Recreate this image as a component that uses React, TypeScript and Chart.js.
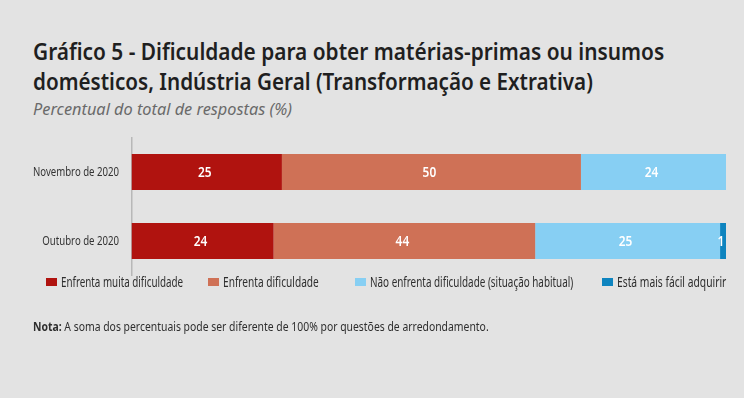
import React, { useEffect, useLayoutEffect, useRef } from "react";
import { Chart, registerables } from "chart.js";

Chart.register(...registerables);

const categories = ["Novembro de 2020", "Outubro de 2020"];
const seriesNames = [
  "Enfrenta muita dificuldade",
  "Enfrenta dificuldade",
  "Não enfrenta dificuldade (situação habitual)",
  "Está mais fácil adquirir",
];
const muitaDificuldade = [25.3, 23.9];
const dificuldade = [50.3, 44.0];
const naoEnfrenta = [24.4, 31.1];
const maisFacil = [0, 1.0];
const muitaLabels = ["25", "24"];
const dificuldadeLabels = ["50", "44"];
const naoEnfrentaLabels = ["24", "25"];
const maisFacilLabels = ["", "1"];
const colors = ["#B0130F", "#CF7156", "#87CFF3", "#0E84BF"];

const FONT = '"Noto Sans", "Open Sans", sans-serif';

// draws category labels horizontally compressed, at positions given by the y scale
const tickLabelPlugin = {
  id: "tickLabels",
  afterDraw(chart: any) {
    const ctx = chart.ctx;
    const y = chart.scales.y;
    ctx.save();
    ctx.font = `13px ${FONT}`;
    ctx.fillStyle = "#333333";
    ctx.textBaseline = "middle";
    const right = y.right - 12.5;
    const targetW = 86;
    const s = Math.min(1, targetW / ctx.measureText(categories[0]).width);
    chart.data.labels.forEach((lab: string, i: number) => {
      const py = y.getPixelForValue(i);
      ctx.save();
      ctx.translate(right, py);
      ctx.scale(s, 1);
      ctx.textAlign = "right";
      ctx.fillText(lab, 0, 0);
      ctx.restore();
    });
    ctx.restore();
  },
};

const barLabelPlugin = {
  id: "barLabels",
  afterDatasetsDraw(chart: any) {
    const ctx = chart.ctx;
    ctx.save();
    ctx.font = `600 14px ${FONT}`;
    ctx.fillStyle = "#ffffff";
    ctx.textBaseline = "middle";
    chart.data.datasets.forEach((ds: any, di: number) => {
      const meta = chart.getDatasetMeta(di);
      meta.data.forEach((el: any, i: number) => {
        const txt = ds.printed[i];
        if (!txt) return;
        const p = el.getProps(["x", "y", "base"], true);
        ctx.save();
        ctx.translate((p.x + p.base) / 2 - 2, p.y + 1);
        ctx.scale(0.85, 1);
        ctx.textAlign = "center";
        ctx.fillText(txt, 0, 0);
        ctx.restore();
      });
    });
    ctx.restore();
  },
};

function FitText({ width, style, children }: { width: number; style: any; children: any }) {
  const ref = useRef<HTMLSpanElement>(null);
  useLayoutEffect(() => {
    const el = ref.current!;
    el.style.transform = "none";
    const w = el.offsetWidth;
    if (w > 0) el.style.transform = `scaleX(${width / w})`;
  }, [width]);
  return (
    <span
      ref={ref}
      style={{ display: "inline-block", whiteSpace: "nowrap", transformOrigin: "0 50%", ...style }}
    >
      {children}
    </span>
  );
}

export default function App() {
  const ref = useRef<HTMLCanvasElement>(null);
  useEffect(() => {
    const printed = [muitaLabels, dificuldadeLabels, naoEnfrentaLabels, maisFacilLabels];
    const values = [muitaDificuldade, dificuldade, naoEnfrenta, maisFacil];
    const chart = new Chart(ref.current!, {
      type: "bar",
      data: {
        labels: categories,
        datasets: seriesNames.map((name, i) => ({
          label: name,
          data: values[i],
          backgroundColor: colors[i],
          borderWidth: 0,
          categoryPercentage: 1,
          barPercentage: 0.52,
          printed: printed[i],
        })) as any,
      },
      options: {
        indexAxis: "y",
        responsive: false,
        animation: false,
        layout: { padding: { top: 137.5, bottom: 122.5, left: 0, right: 18 } },
        plugins: { legend: { display: false }, tooltip: { enabled: false }, title: { display: false } },
        scales: {
          x: { stacked: true, min: 0, max: 100, display: false },
          y: {
            stacked: true,
            grid: { display: false, drawTicks: false },
            border: { display: true, color: "#b8b8b8", width: 1.5 },
            ticks: { display: false },
            afterFit(scale: any) {
              scale.width = 131.5;
            },
          },
        },
      },
      plugins: [barLabelPlugin, tickLabelPlugin],
    });
    return () => chart.destroy();
  }, []);

  const legendLeft = [46, 208, 355, 602];
  const legendTextW = [122, 96, 203, 109];

  return (
    <div
      style={{
        position: "fixed",
        left: 0,
        top: 0,
        width: 744,
        height: 398,
        background: "#E3E3E3",
        fontFamily: FONT,
        overflow: "hidden",
      }}
    >
      <div style={{ position: "absolute", left: 33, top: 36, fontSize: 23, fontWeight: 600, color: "#1f1f1f", lineHeight: "30px" }}>
        <FitText width={631} style={{}}>Gráfico 5 - Dificuldade para obter matérias-primas ou insumos</FitText>
        <br />
        <FitText width={560} style={{}}>domésticos, Indústria Geral (Transformação e Extrativa)</FitText>
      </div>
      <div style={{ position: "absolute", left: 33, top: 98, fontSize: 17, fontStyle: "italic", color: "#6a6a6a", lineHeight: "22px" }}>
        <FitText width={259} style={{}}>Percentual do total de respostas (%)</FitText>
      </div>
      <canvas ref={ref} width={744} height={398} style={{ position: "absolute", left: 0, top: 0 }} />
      {seriesNames.map((name, i) => (
        <div key={name} style={{ position: "absolute", left: legendLeft[i], top: 274, height: 16, display: "flex", alignItems: "center", fontSize: 13.5, color: "#2e2e2e" }}>
          <span style={{ display: "inline-block", width: 11, height: 7.5, background: colors[i], marginRight: 4 }} />
          <FitText width={legendTextW[i]} style={{}}>{name}</FitText>
        </div>
      ))}
      <div style={{ position: "absolute", left: 33, top: 318, fontSize: 13, color: "#2e2e2e", lineHeight: "16px" }}>
        <FitText width={456} style={{}}>
          <b>Nota:</b> A soma dos percentuais pode ser diferente de 100% por questões de arredondamento.
        </FitText>
      </div>
    </div>
  );
}
